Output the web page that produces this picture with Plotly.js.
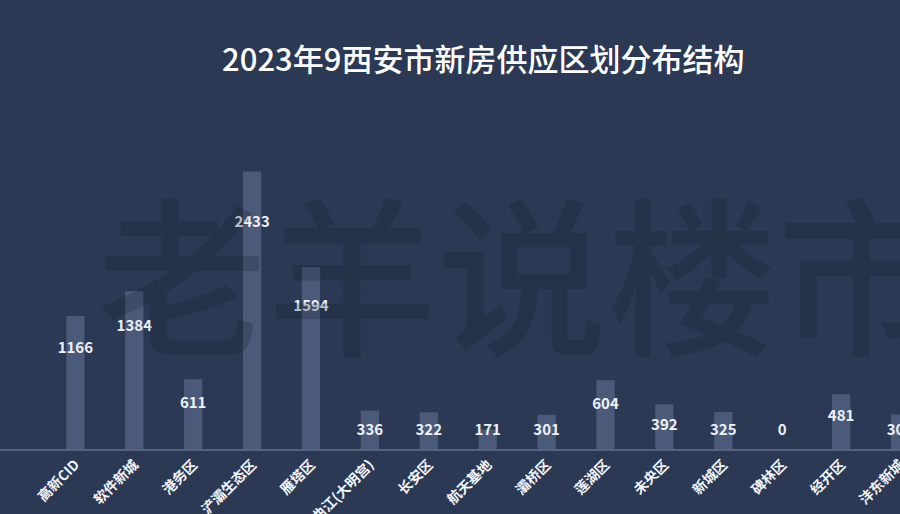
<!DOCTYPE html>
<html>
<head>
<meta charset="utf-8">
<script src="https://cdn.plot.ly/plotly-3.0.1.min.js"></script>
<style>
html,body{margin:0;padding:0;background:#2b3954;}
#chart{width:900px;height:514px;}
</style>
</head>
<body>
<div id="chart"></div>
<script>
const categories = ['高新CID','软件新城','港务区','浐灞生态区','雁塔区','曲江(大明宫)','长安区','航天基地','灞桥区','莲湖区','未央区','新城区','碑林区','经开区','沣东新城'];
const values = [1166,1384,611,2433,1594,336,322,171,301,604,392,325,0,481,303];
const titleText = '2023年9西安市新房供应区划分布结构';
const watermarkText = '老羊说楼市';

const labelY = values.map(v => Math.max(0.87 * v - 140, 155));

const bars = {
  type: 'bar',
  x: categories,
  y: values,
  width: 0.31,
  marker: {color: '#4b5a78', line: {width: 0}},
  hoverinfo: 'none'
};
const labels = {
  type: 'scatter',
  mode: 'text',
  x: categories,
  y: labelY,
  text: values.map(String),
  textposition: 'middle center',
  textfont: {family: '"Noto Sans CJK SC", "Noto Sans", sans-serif', size: 15, color: '#eef1f6', weight: 'bold'},
  cliponaxis: false,
  hoverinfo: 'none'
};

const layout = {
  width: 900,
  height: 514,
  paper_bgcolor: '#2b3954',
  plot_bgcolor: '#2b3954',
  margin: {l: 0, r: 0, t: 100, b: 65, pad: 0},
  showlegend: false,
  title: {
    text: titleText,
    x: 0.537, xanchor: 'center', xref: 'paper',
    y: 0.883, yanchor: 'middle', yref: 'container',
    font: {family: '"Noto Sans CJK SC", sans-serif', size: 31, color: '#ffffff', weight: 500}
  },
  xaxis: {
    type: 'category',
    range: [-1.28, 14.0],
    tickangle: -45,
    ticks: '',
    showgrid: false,
    zeroline: false,
    showline: true,
    linecolor: '#55637e',
    linewidth: 2,
    automargin: false,
    tickfont: {family: '"Noto Sans CJK SC", sans-serif', size: 14, color: '#f2f4f8', weight: 'bold'},
    fixedrange: true
  },
  yaxis: {
    range: [0, 3061],
    showgrid: false,
    zeroline: false,
    showline: false,
    showticklabels: false,
    ticks: '',
    fixedrange: true
  },
  annotations: [{
    text: watermarkText,
    xref: 'paper', yref: 'paper',
    x: 0.58, y: 0.515,
    xanchor: 'center', yanchor: 'middle',
    showarrow: false,
    font: {family: '"Noto Sans CJK SC", sans-serif', size: 170, color: 'rgba(18,28,48,0.24)', weight: 500}
  }]
};

Plotly.newPlot('chart', [bars, labels], layout, {staticPlot: true, displayModeBar: false});
</script>
</body>
</html>
